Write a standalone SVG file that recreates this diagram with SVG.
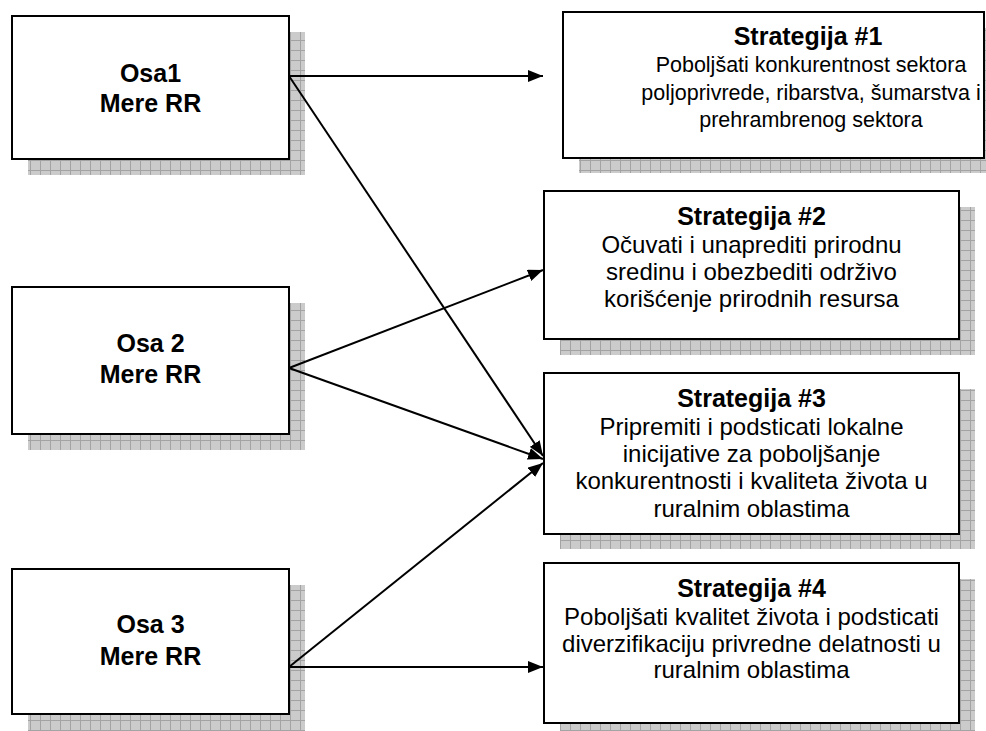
<svg xmlns="http://www.w3.org/2000/svg" width="986" height="731" viewBox="0 0 986 731">
<defs>
<pattern id="grid" patternUnits="userSpaceOnUse" width="10" height="10">
<rect width="10" height="10" fill="#cbcbcb"/>
<path d="M0 0.5H10M0.5 0V10" stroke="#a3a3a3" stroke-width="1"/>
</pattern>
<marker id="arr" markerWidth="16" markerHeight="12" refX="15" refY="6" orient="auto" markerUnits="userSpaceOnUse">
<path d="M0 0L15 6L0 12z" fill="#000"/>
</marker>
</defs>
<style>
.shadow{fill:url(#grid)}
.box{fill:#fff;stroke:#000;stroke-width:2}
.t{font-family:"Liberation Sans",Arial,sans-serif;text-anchor:middle;fill:#000}
.b{font-weight:bold;font-size:25px}
.r{font-size:24px}
.s{font-size:21.5px}
.c{stroke:#000;stroke-width:2;fill:none;marker-end:url(#arr)}
</style>
<rect width="986" height="731" fill="#fff"/>

<g id="osa1">
<rect class="shadow" x="28" y="32" width="277" height="143"/>
<rect class="box" x="12" y="16" width="277" height="143"/>
<text class="t b" x="150.5" y="82">Osa1</text>
<text class="t b" x="150.5" y="112">Mere RR</text>
</g>
<g id="osa2">
<rect class="shadow" x="28" y="303" width="277" height="147"/>
<rect class="box" x="12" y="287" width="277" height="147"/>
<text class="t b" x="150.5" y="352">Osa 2</text>
<text class="t b" x="150.5" y="383">Mere RR</text>
</g>
<g id="osa3">
<rect class="shadow" x="28" y="585" width="277" height="146"/>
<rect class="box" x="12" y="569" width="277" height="145"/>
<text class="t b" x="150.5" y="633">Osa 3</text>
<text class="t b" x="150.5" y="665">Mere RR</text>
</g>

<g id="s1">
<rect class="shadow" x="579" y="28" width="420" height="145"/>
<rect class="box" x="563" y="12" width="421" height="146"/>
<text class="t b" x="808" y="45">Strategija #1</text>
<text class="t s" x="811" y="72">Poboljšati konkurentnost sektora</text>
<text class="t s" x="811" y="100">poljoprivrede, ribarstva, šumarstva i</text>
<text class="t s" x="811" y="127">prehrambrenog sektora</text>
</g>
<g id="s2">
<rect class="shadow" x="560" y="207" width="415" height="148"/>
<rect class="box" x="544" y="191" width="415" height="148"/>
<text class="t b" x="751.5" y="225">Strategija #2</text>
<text class="t r" x="751.5" y="253">Očuvati i unaprediti prirodnu</text>
<text class="t r" x="751.5" y="280">sredinu i obezbediti održivo</text>
<text class="t r" x="751.5" y="307">korišćenje prirodnih resursa</text>
</g>
<g id="s3">
<rect class="shadow" x="560" y="389" width="415" height="160"/>
<rect class="box" x="544" y="373" width="415" height="161"/>
<text class="t b" x="751.5" y="407">Strategija #3</text>
<text class="t r" x="751.5" y="435">Pripremiti i podsticati lokalne</text>
<text class="t r" x="751.5" y="462">inicijative za poboljšanje</text>
<text class="t r" x="751.5" y="489">konkurentnosti i kvaliteta života u</text>
<text class="t r" x="751.5" y="517">ruralnim oblastima</text>
</g>
<g id="s4">
<rect class="shadow" x="560" y="579" width="415" height="160"/>
<rect class="box" x="544" y="563" width="415" height="160"/>
<text class="t b" x="751.5" y="597">Strategija #4</text>
<text class="t r" x="751.5" y="625">Poboljšati kvalitet života i podsticati</text>
<text class="t r" x="751.5" y="652">diverzifikaciju privredne delatnosti u</text>
<text class="t r" x="751.5" y="678">ruralnim oblastima</text>
</g>

<g id="connectors">
<line class="c" x1="289" y1="76" x2="543" y2="76"/>
<line class="c" x1="289" y1="76" x2="543" y2="456"/>
<line class="c" x1="289" y1="368" x2="543" y2="270"/>
<line class="c" x1="289" y1="368" x2="543" y2="459"/>
<line class="c" x1="289" y1="667" x2="543" y2="463"/>
<line class="c" x1="289" y1="667" x2="543" y2="667"/>
</g>
</svg>
